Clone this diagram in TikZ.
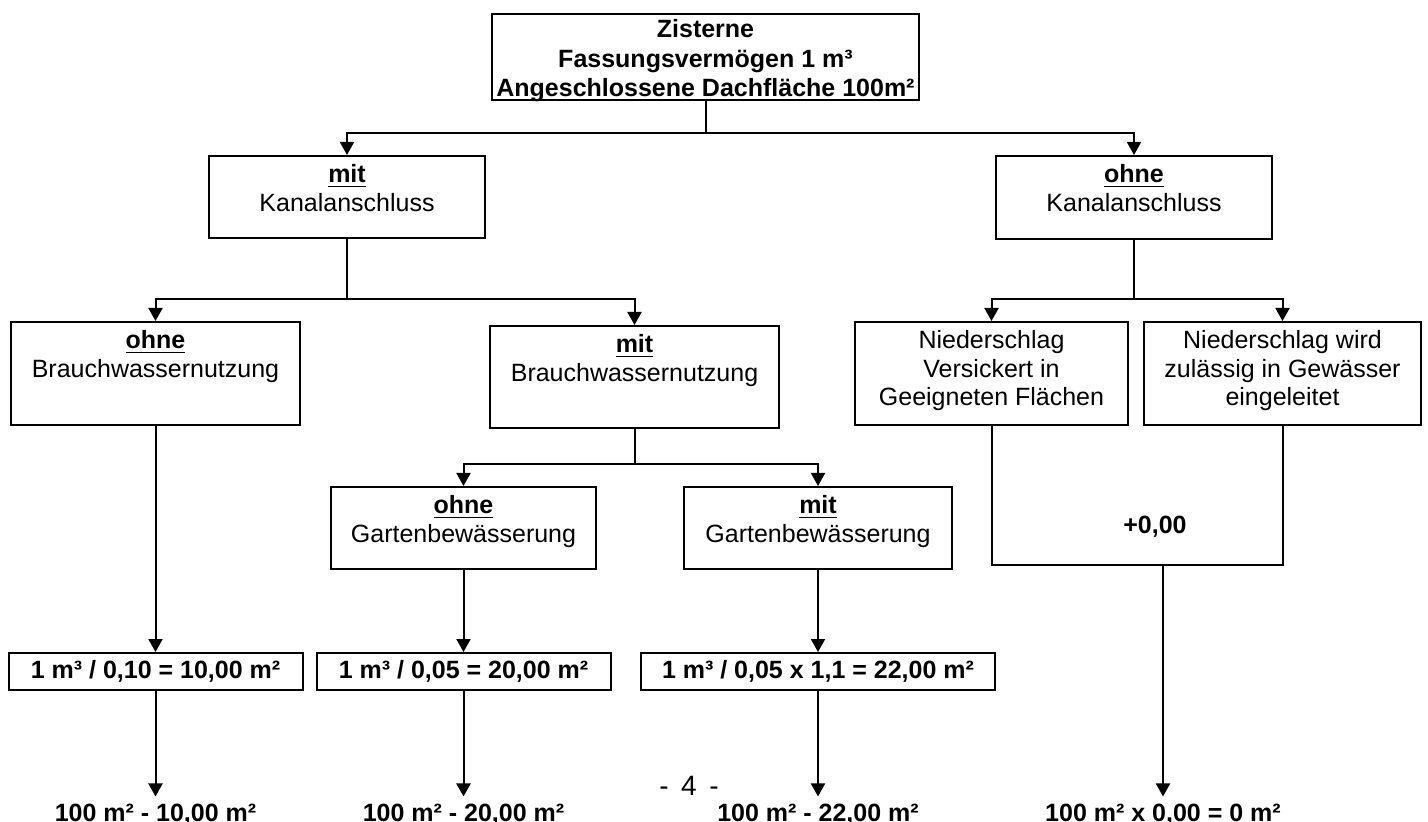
\documentclass[tikz,border=0pt]{standalone}
\usepackage{fontspec}
\setmainfont{Liberation Sans}
\usetikzlibrary{arrows.meta}

\newcommand{\grund}{\fontsize{12.5}{14.2}\selectfont}
\newcommand{\zeilen}[4][13.5pt]{\parbox[c][#3][t]{#2}{\centering\rule{0pt}{#1}#4}}

\tikzset{
  kasten/.style={draw, line width=1pt, inner sep=0pt, font=\grund},
  formel/.style={draw, line width=1pt, inner sep=0pt, minimum height=18.5pt, font=\grund\bfseries},
  ergebnis/.style={anchor=base, font=\grund\bfseries},
  linie/.style={line width=1pt},
  pfeil/.style={line width=1pt, -{Triangle[width=7pt,length=6.5pt]}}
}

\begin{document}
\begin{tikzpicture}[x=0.5pt, y=-0.5pt]
\useasboundingbox (0,0) rectangle (1428,822);

% oberste Ebene
\node[kasten, font=\fontsize{12.5}{14.6}\selectfont\bfseries] (zist) at (705.5,57)
  {\zeilen[12pt]{213.5pt}{43pt}{Zisterne\\Fassungsvermögen 1 m³\\Angeschlossene Dachfläche 100m²}};

% Kanalanschluss
\node[kasten] (mitK) at (347,197) {\zeilen{138pt}{41pt}{\underline{\textbf{mit}}\\Kanalanschluss}};
\node[kasten] (ohneK) at (1134,197.5) {\zeilen{138pt}{41.5pt}{\underline{\textbf{ohne}}\\Kanalanschluss}};

% Brauchwasser / Niederschlag
\node[kasten] (ohneB) at (155.5,373.5) {\zeilen{144.5pt}{51.5pt}{\underline{\textbf{ohne}}\\Brauchwassernutzung}};
\node[kasten] (mitB) at (634.5,377) {\zeilen{144.5pt}{51pt}{\underline{\textbf{mit}}\\Brauchwassernutzung}};
\node[kasten] (nied1) at (991.5,373.5) {\zeilen{136.5pt}{51.5pt}{Niederschlag\\Versickert in\\Geeigneten Flächen}};
\node[kasten] (nied2) at (1282.5,373.5) {\zeilen{138.5pt}{51.5pt}{Niederschlag wird\\zulässig in Gewässer\\eingeleitet}};

% Gartenbewaesserung
\node[kasten] (ohneG) at (463.5,528) {\zeilen{132.5pt}{41pt}{\underline{\textbf{ohne}}\\Gartenbewässerung}};
\node[kasten] (mitG) at (818,528) {\zeilen{134pt}{41pt}{\underline{\textbf{mit}}\\Gartenbewässerung}};

% Rechnungen
\node[formel, minimum width=147pt] (f1) at (155.5,671.5) {1 m³ / 0,10 = 10,00 m²};
\node[formel, minimum width=147pt] (f2) at (463.5,671.5) {1 m³ / 0,05 = 20,00 m²};
\node[formel, minimum width=177pt] (f3) at (818,671.5) {1 m³ / 0,05 x 1,1 = 22,00 m²};

\node[ergebnis] (r1) at (155.5,821) {100 m² - 10,00 m²};
\node[ergebnis] (r2) at (463.5,821) {100 m² - 20,00 m²};
\node[ergebnis] (r3) at (818,821) {100 m² - 22,00 m²};
\node[ergebnis] (r4) at (1163,821) {100 m² x 0,00 = 0 m²};

\node[font=\grund\bfseries] (plus) at (1155,527) {+0,00};
\node[anchor=base, font=\fontsize{14}{16}\selectfont] (seite) at (689,795) {-\hspace{0.45em}4\hspace{0.45em}-};

% Verbindungen
\draw[linie] (zist.south) -- ++(0,32) coordinate (j1);
\draw[pfeil] (j1) -| (mitK.north);
\draw[pfeil] (j1) -| (ohneK.north);

\draw[linie] (mitK.south) -- ++(0,60) coordinate (j2);
\draw[pfeil] (j2) -| (ohneB.north);
\draw[pfeil] (j2) -| (mitB.north);

\draw[linie] (ohneK.south) -- ++(0,59) coordinate (j3);
\draw[pfeil] (j3) -| (nied1.north);
\draw[pfeil] (j3) -| (nied2.north);

\draw[linie] (mitB.south) -- ++(0,35) coordinate (j4);
\draw[pfeil] (j4) -| (ohneG.north);
\draw[pfeil] (j4) -| (mitG.north);

\draw[pfeil] (ohneB.south) -- (f1.north);
\draw[pfeil] (ohneG.south) -- (f2.north);
\draw[pfeil] (mitG.south) -- (f3.north);

\draw[pfeil] (f1.south) -- (r1.north);
\draw[pfeil] (f2.south) -- (r2.north);
\draw[pfeil] (f3.south) -- (r3.north);

\draw[linie] (nied1.south) -- ++(0,139) -| (nied2.south);
\coordinate (u) at (1163,564);
\draw[pfeil] (u) -- (u |- r4.north);
\end{tikzpicture}
\end{document}
